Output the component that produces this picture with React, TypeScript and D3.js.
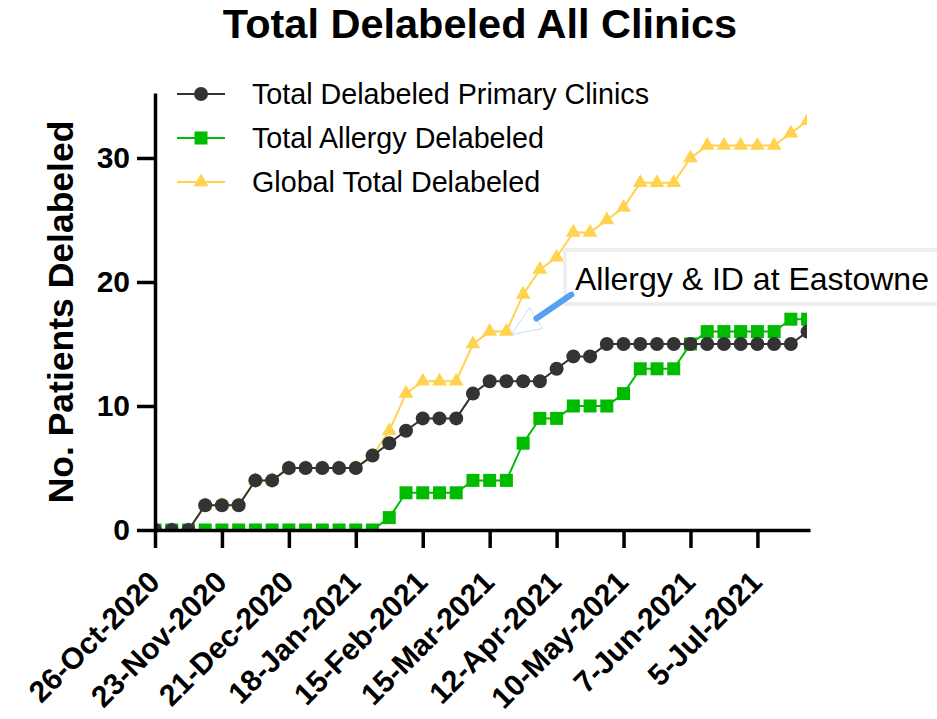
import React, { useRef, useEffect } from "react";
import * as d3 from "d3";

// weekly observations (Mondays)
const weekDates = [
  "2020-10-26", "2020-11-02", "2020-11-09", "2020-11-16", "2020-11-23", "2020-11-30",
  "2020-12-07", "2020-12-14", "2020-12-21", "2020-12-28", "2021-01-04", "2021-01-11",
  "2021-01-18", "2021-01-25", "2021-02-01", "2021-02-08", "2021-02-15", "2021-02-22",
  "2021-03-01", "2021-03-08", "2021-03-15", "2021-03-22", "2021-03-29", "2021-04-05",
  "2021-04-12", "2021-04-19", "2021-04-26", "2021-05-03", "2021-05-10", "2021-05-17",
  "2021-05-24", "2021-05-31", "2021-06-07", "2021-06-14", "2021-06-21", "2021-06-28",
  "2021-07-05", "2021-07-12", "2021-07-19", "2021-07-26"
];
const primaryClinics = [0, 0, 0, 2, 2, 2, 4, 4, 5, 5, 5, 5, 5, 6, 7, 8, 9, 9, 9, 11, 12, 12, 12, 12, 13, 14, 14, 15, 15, 15, 15, 15, 15, 15, 15, 15, 15, 15, 15, 16];
const allergyDelabeled = [0, 0, 0, 0, 0, 0, 0, 0, 0, 0, 0, 0, 0, 0, 1, 3, 3, 3, 3, 4, 4, 4, 7, 9, 9, 10, 10, 10, 11, 13, 13, 13, 15, 16, 16, 16, 16, 16, 17, 17];
const globalTotal = [0, 0, 0, 2, 2, 2, 4, 4, 5, 5, 5, 5, 5, 6, 8, 11, 12, 12, 12, 15, 16, 16, 19, 21, 22, 24, 24, 25, 26, 28, 28, 28, 30, 31, 31, 31, 31, 31, 32, 33];

const tickDates = ["2020-10-26", "2020-11-23", "2020-12-21", "2021-01-18", "2021-02-15", "2021-03-15", "2021-04-12", "2021-05-10", "2021-06-07", "2021-07-05"];
const yTicks = [0, 10, 20, 30];
const seriesNames = ["Total Delabeled Primary Clinics", "Total Allergy Delabeled", "Global Total Delabeled"];
const seriesColors = ["#333333", "#00bb00", "#ffd24f"];
const annotationText = "Allergy & ID at Eastowne";
const annotationIndex = 21; // arrow points at this week on the global line

const parseDate = d3.timeParse("%Y-%m-%d");
const formatTick = d3.timeFormat("%-d-%b-%Y");
const FONT = "Arial, 'Liberation Sans', sans-serif";

const dimensions = {
  width: 937,
  height: 719,
  margin: { top: 93, left: 155, bottom: 189, right: 127 }
};

export default function App() {
  const svgRef = useRef<SVGSVGElement>(null);

  useEffect(() => {
    if (!svgRef.current) return;
    const svg = d3.select(svgRef.current);
    svg.selectAll("*").remove();

    const x0 = dimensions.margin.left;
    const x1 = dimensions.width - dimensions.margin.right;
    const y0 = dimensions.height - dimensions.margin.bottom;

    const xScale = d3.scaleTime()
      .domain([parseDate("2020-10-26") as Date, parseDate("2021-07-27") as Date])
      .range([x0, x1]);
    const yScale = d3.scaleLinear().domain([0, 35.24]).range([y0, dimensions.margin.top]);

    const dates = weekDates.map(d => parseDate(d) as Date);

    // title
    svg.append("text")
      .attr("x", 480).attr("y", 38)
      .attr("text-anchor", "middle")
      .attr("font-family", FONT).attr("font-weight", "bold").attr("font-size", 41.5)
      .text("Total Delabeled All Clinics");

    // y label
    svg.append("text")
      .attr("transform", `translate(73, 312) rotate(-90)`)
      .attr("text-anchor", "middle")
      .attr("font-family", FONT).attr("font-weight", "bold").attr("font-size", 35.5)
      .text("No. Patients Delabeled");

    // clip for plot area
    svg.append("clipPath").attr("id", "plot-clip")
      .append("rect").attr("x", x0).attr("y", 0).attr("width", x1 - 3 - x0).attr("height", y0);

    const plot = svg.append("g").attr("clip-path", "url(#plot-clip)");

    const lineGen = d3.line<number>()
      .x((_, i) => xScale(dates[i]))
      .y(d => yScale(d));

    // global (yellow) drawn first
    plot.append("path").attr("d", lineGen(globalTotal))
      .attr("fill", "none").attr("stroke", seriesColors[2]).attr("stroke-width", 2);
    const tri = d3.symbol().type(d3.symbolTriangle).size(95);
    plot.append("g").selectAll("path").data(globalTotal).join("path")
      .attr("d", tri as any)
      .attr("transform", (d, i) => `translate(${xScale(dates[i])},${yScale(d)})`)
      .attr("fill", seriesColors[2]);

    // allergy (green)
    plot.append("path").attr("d", lineGen(allergyDelabeled))
      .attr("fill", "none").attr("stroke", seriesColors[1]).attr("stroke-width", 2);
    plot.append("g").selectAll("rect").data(allergyDelabeled).join("rect")
      .attr("x", (d, i) => xScale(dates[i]) - 6.5)
      .attr("y", d => yScale(d) - 6.5)
      .attr("width", 13).attr("height", 13)
      .attr("fill", seriesColors[1]);

    // primary (dark)
    plot.append("path").attr("d", lineGen(primaryClinics))
      .attr("fill", "none").attr("stroke", seriesColors[0]).attr("stroke-width", 2);
    plot.append("g").selectAll("circle").data(primaryClinics).join("circle")
      .attr("cx", (d, i) => xScale(dates[i]))
      .attr("cy", d => yScale(d))
      .attr("r", 7)
      .attr("fill", seriesColors[0]);

    // axes
    const yAxis = svg.append("g").attr("transform", `translate(${x0},0)`)
      .call(d3.axisLeft(yScale).tickValues(yTicks).tickSize(18).tickSizeOuter(0).tickPadding(7));
    const xAxis = svg.append("g").attr("transform", `translate(0,${y0})`)
      .call(d3.axisBottom(xScale).tickValues(tickDates.map(d => parseDate(d) as Date)).tickSize(18).tickSizeOuter(0).tickFormat(d => formatTick(d as Date)));

    [yAxis, xAxis].forEach(ax => {
      ax.select(".domain").attr("stroke", "#000").attr("stroke-width", 3.5);
      ax.selectAll(".tick line").attr("stroke", "#000").attr("stroke-width", 3.5);
      ax.selectAll("text").attr("font-family", FONT).attr("font-weight", "bold").attr("fill", "#000");
    });
    yAxis.selectAll("text").attr("font-size", 30);
    xAxis.selectAll("text")
      .attr("font-size", 30)
      .attr("y", 0).attr("dy", 0)
      .attr("text-anchor", "end")
      .attr("transform", "translate(6,54) rotate(-45)");

    // legend
    const legend = svg.append("g").attr("transform", "translate(177,94)");
    seriesNames.forEach((name, i) => {
      const row = legend.append("g").attr("transform", `translate(0,${i * 44})`);
      row.append("line").attr("x1", 0).attr("x2", 48).attr("y1", 0).attr("y2", 0)
        .attr("stroke", seriesColors[i]).attr("stroke-width", 2);
      if (i === 0) row.append("circle").attr("cx", 24).attr("cy", 0).attr("r", 7).attr("fill", seriesColors[i]);
      if (i === 1) row.append("rect").attr("x", 17.5).attr("y", -6.5).attr("width", 13).attr("height", 13).attr("fill", seriesColors[i]);
      if (i === 2) row.append("path").attr("d", tri as any).attr("transform", "translate(24,0)").attr("fill", seriesColors[i]);
      row.append("text").attr("x", 75).attr("y", 10)
        .attr("font-family", FONT).attr("font-size", 28.7).attr("fill", "#000")
        .text(name);
    });

    // annotation
    const tipX = xScale(dates[annotationIndex]) + 5;
    const tipY = yScale(globalTotal[annotationIndex]) + 3;
    const ann = svg.append("g");
    ann.append("rect").attr("x", 565).attr("y", 250).attr("width", 400).attr("height", 54)
      .attr("fill", "#fff").attr("stroke", "#eeeeee").attr("stroke-width", 4);
    ann.append("text").attr("x", 575).attr("y", 290)
      .attr("font-family", FONT).attr("font-size", 32).attr("fill", "#000")
      .text(annotationText);
    ann.append("polygon")
      .attr("points", `${tipX},${tipY} ${tipX + 18},${tipY - 27} ${tipX + 31},${tipY - 6}`)
      .attr("fill", "none").attr("stroke", "#c6ddfa").attr("stroke-width", 1);
    ann.append("line").attr("x1", tipX + 25).attr("y1", tipY - 16).attr("x2", tipX + 60).attr("y2", tipY - 40)
      .attr("stroke", "#55a0f2").attr("stroke-width", 6).attr("stroke-linecap", "round");
  }, []);

  return (
    <svg ref={svgRef} width={dimensions.width} height={dimensions.height}
      style={{ position: "absolute", left: 0, top: 0, background: "#fff" }} />
  );
}
